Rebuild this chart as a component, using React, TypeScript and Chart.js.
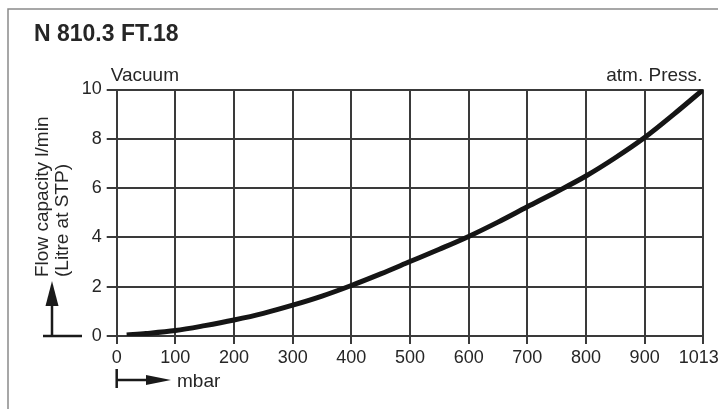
import React, { useEffect, useRef } from "react";
import { Chart, registerables } from "chart.js";

Chart.register(...registerables);

// Pressure positions on the axis (the last grid position, 1000, is labelled 1013 mbar)
const pressurePositions = [17, 50, 100, 150, 200, 250, 300, 350, 400, 450, 500, 550, 600, 650, 700, 750, 800, 850, 900, 950, 1000];
// Flow capacity l/min (Litre at STP)
const flowValues = [0.04, 0.1, 0.22, 0.42, 0.65, 0.92, 1.25, 1.62, 2.05, 2.52, 3.02, 3.52, 4.04, 4.62, 5.24, 5.85, 6.49, 7.23, 8.05, 9.0, 10.0];
const xTickLabels = ["0", "100", "200", "300", "400", "500", "600", "700", "800", "900", "1013"];
const yTickLabels = ["0", "2", "4", "6", "8", "10"];

const chartTitle = "N 810.3 FT.18";
const leftTopLabel = "Vacuum";
const rightTopLabel = "atm. Press.";
const yTitleLines = ["Flow capacity l/min", "(Litre at STP)"];
const xUnit = "mbar";

const FONT = "'Liberation Sans', Arial, Helvetica, sans-serif";
const TEXT = "#262626";
const GRID = "#3a3a3a";

const decorPlugin = {
  id: "decor",
  beforeDraw(chart: any) {
    const ctx = chart.ctx;
    ctx.save();
    ctx.fillStyle = "#fff";
    ctx.fillRect(0, 0, chart.width, chart.height);
    ctx.strokeStyle = "#8a8a8a";
    ctx.lineWidth = 1.5;
    ctx.beginPath();
    ctx.moveTo(8, chart.height);
    ctx.lineTo(8, 9);
    ctx.lineTo(chart.width, 9);
    ctx.stroke();
    ctx.restore();
  },
  afterDraw(chart: any) {
    const ctx = chart.ctx;
    const a = chart.chartArea;
    ctx.save();
    ctx.fillStyle = TEXT;
    ctx.strokeStyle = "#1a1a1a";
    // title
    ctx.font = `bold 23px ${FONT}`;
    ctx.textAlign = "left";
    ctx.textBaseline = "alphabetic";
    ctx.fillText(chartTitle, 34, 41);
    // top labels
    ctx.font = `19px ${FONT}`;
    ctx.fillText(leftTopLabel, a.left - 6, a.top - 9);
    ctx.textAlign = "right";
    ctx.fillText(rightTopLabel, a.right - 1, a.top - 9);
    // y title (rotated)
    ctx.textAlign = "left";
    ctx.textBaseline = "middle";
    const ys = [43, 63];
    yTitleLines.forEach((t, i) => {
      ctx.save();
      ctx.translate(ys[i], 277);
      ctx.rotate(-Math.PI / 2);
      ctx.fillText(t, 0, 0);
      ctx.restore();
    });
    // up arrow
    ctx.lineWidth = 2.5;
    ctx.beginPath();
    ctx.moveTo(43, a.bottom);
    ctx.lineTo(82, a.bottom);
    ctx.moveTo(52, a.bottom);
    ctx.lineTo(52, 302);
    ctx.stroke();
    ctx.fillStyle = "#1a1a1a";
    ctx.beginPath();
    ctx.moveTo(52, 281);
    ctx.lineTo(45.5, 306);
    ctx.lineTo(58.5, 306);
    ctx.closePath();
    ctx.fill();
    // mbar arrow
    const x0 = a.left;
    ctx.beginPath();
    ctx.moveTo(x0, 369);
    ctx.lineTo(x0, 388);
    ctx.moveTo(x0, 380);
    ctx.lineTo(150, 380);
    ctx.stroke();
    ctx.beginPath();
    ctx.moveTo(171, 380);
    ctx.lineTo(146, 375);
    ctx.lineTo(146, 385);
    ctx.closePath();
    ctx.fill();
    ctx.fillStyle = TEXT;
    ctx.textBaseline = "alphabetic";
    ctx.fillText(xUnit, 177, 387);
    ctx.restore();
  },
};

export default function App() {
  const ref = useRef<HTMLCanvasElement | null>(null);
  useEffect(() => {
    document.body.style.margin = "0";
    if (!ref.current) return;
    const chart = new Chart(ref.current, {
      type: "line",
      data: {
        datasets: [
          {
            data: pressurePositions.map((x, i) => ({ x, y: flowValues[i] })),
            borderColor: "#151515",
            borderWidth: 5,
            pointRadius: 0,
            cubicInterpolationMode: "monotone",
            fill: false,
          },
        ],
      },
      options: {
        animation: false,
        responsive: false,
        maintainAspectRatio: false,
        layout: { padding: { left: 0, top: 89.5, right: 14.7, bottom: 0 } },
        plugins: { legend: { display: false }, title: { display: false }, tooltip: { enabled: false } },
        scales: {
          x: {
            type: "linear",
            min: 0,
            max: 1000,
            afterFit: (s: any) => {
              s.height = 73;
              s.paddingLeft = 0;
              s.paddingRight = 0;
            },
            afterBuildTicks: (s: any) => {
              s.ticks = xTickLabels.map((_, i) => ({ value: i * 100 }));
            },
            ticks: {
              callback: (_v: any, i: number) =>
                i === xTickLabels.length - 1 ? xTickLabels[i] + "\u2002" : xTickLabels[i],
              font: { size: 18, family: FONT },
              color: TEXT,
              padding: 3,
              maxRotation: 0,
              autoSkip: false,
            },
            grid: { color: GRID, lineWidth: 2, tickLength: 8 },
            border: { color: GRID, width: 2 },
          },
          y: {
            type: "linear",
            min: 0,
            max: 10,
            afterFit: (s: any) => {
              s.width = 116.7;
            },
            afterBuildTicks: (s: any) => {
              s.ticks = yTickLabels.map((t) => ({ value: Number(t) }));
            },
            ticks: {
              callback: (_v: any, i: number) => yTickLabels[i],
              font: { size: 18, family: FONT },
              color: TEXT,
              padding: 5,
            },
            grid: { color: GRID, lineWidth: 2, tickLength: 10 },
            border: { color: GRID, width: 2 },
          },
        },
      },
      plugins: [decorPlugin],
    });
    return () => chart.destroy();
  }, []);
  return <canvas ref={ref} width={718} height={409} style={{ display: "block", width: 718, height: 409 }} />;
}
